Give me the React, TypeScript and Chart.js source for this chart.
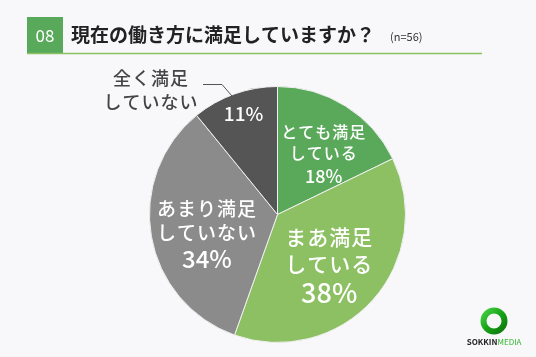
import React, { useEffect, useRef } from "react";
import { Chart, registerables } from "chart.js";

Chart.register(...registerables);

const categories: string[][] = [
  ["とても満足", "している"],
  ["まあ満足", "している"],
  ["あまり満足", "していない"],
  ["全く満足", "していない"],
];
const values: number[] = [18, 38, 34, 11];
const percentLabels: string[] = ["18%", "38%", "34%", "11%"];
const colors: string[] = ["#5aa95b", "#8cc062", "#8b8b8b", "#555555"];

const titleNumber = "08";
const titleText = "現在の働き方に満足していますか？";
const sampleText = "(n=56)";

const FONT = '"Noto Sans CJK JP", "Noto Sans", sans-serif';

// label style per slice: radial fraction, angle tweak (deg), text size, pct size, line gap
const labelStyle = [
  { frac: 0.6, dAng: 5, tSize: 16, pSize: 18, gap: 21, color: "#ffffff" },
  { frac: 0.56, dAng: 2, tSize: 21, pSize: 27, gap: 27, color: "#ffffff" },
  { frac: 0.57, dAng: -5, tSize: 19, pSize: 24, gap: 24, color: "#ffffff" },
  { frac: 0.83, dAng: 1, tSize: 18, pSize: 19, gap: 24, color: "#ffffff" },
];

export default function App() {
  const ref = useRef<HTMLCanvasElement | null>(null);

  useEffect(() => {
    document.body.style.margin = "0";
    const canvas = ref.current;
    if (!canvas) return;

    const bgPlugin = {
      id: "bg",
      beforeDraw(chart: any) {
        const ctx = chart.ctx;
        ctx.save();
        ctx.fillStyle = "#f8f8fa";
        ctx.fillRect(0, 0, chart.width, chart.height);
        ctx.restore();
      },
    };

    const decoPlugin = {
      id: "deco",
      afterDraw(chart: any) {
        const ctx: CanvasRenderingContext2D = chart.ctx;
        ctx.save();
        // header
        ctx.fillStyle = "#58a95a";
        ctx.fillRect(27, 17, 36, 36);
        ctx.strokeStyle = "#8cc062";
        ctx.lineWidth = 1.5;
        ctx.beginPath();
        ctx.moveTo(27, 53.5);
        ctx.lineTo(482, 53.5);
        ctx.stroke();
        ctx.fillStyle = "#ffffff";
        ctx.font = `17px ${FONT}`;
        ctx.textAlign = "center";
        ctx.textBaseline = "middle";
        ctx.fillText(titleNumber, 45, 36);
        ctx.fillStyle = "#222222";
        ctx.font = `bold 19px ${FONT}`;
        ctx.textAlign = "left";
        ctx.fillText(titleText, 71, 35);
        ctx.font = `11px ${FONT}`;
        ctx.fillStyle = "#333333";
        ctx.fillText(sampleText, 390, 37);

        // slice labels
        const meta = chart.getDatasetMeta(0);
        meta.data.forEach((arc: any, i: number) => {
          const st = labelStyle[i];
          const mid = (arc.startAngle + arc.endAngle) / 2 + (st.dAng * Math.PI) / 180;
          const r = arc.outerRadius * st.frac;
          const cx = arc.x + Math.cos(mid) * r;
          const cy = arc.y + Math.sin(mid) * r;
          ctx.fillStyle = st.color;
          ctx.textAlign = "center";
          ctx.textBaseline = "middle";
          (ctx as any).letterSpacing = "0px";
          if (i === 3) {
            ctx.font = `500 ${st.pSize}px ${FONT}`;
            ctx.fillText(percentLabels[i], cx, cy);
            // outside label
            ctx.fillStyle = "#444444";
            ctx.font = `500 18px ${FONT}`;
            (ctx as any).letterSpacing = "1px";
            ctx.fillText(categories[i][0], 151, 78);
            ctx.fillText(categories[i][1], 151, 102);
            (ctx as any).letterSpacing = "0px";
            ctx.strokeStyle = "#555555";
            ctx.lineWidth = 1;
            ctx.beginPath();
            ctx.moveTo(203, 84.5);
            ctx.lineTo(222, 84.5);
            ctx.lineTo(232, 96);
            ctx.stroke();
            return;
          }
          const lines = categories[i];
          const total = lines.length;
          const startY = cy - (total * st.gap) / 2;
          (ctx as any).letterSpacing = "1px";
          ctx.font = `500 ${st.tSize}px ${FONT}`;
          lines.forEach((ln, k) => {
            ctx.fillText(ln, cx, startY + k * st.gap);
          });
          (ctx as any).letterSpacing = "0px";
          ctx.font = `500 ${st.pSize}px ${FONT}`;
          ctx.fillText(percentLabels[i], cx, startY + total * st.gap + 2);
        });

        // logo
        const lx = 494, ly = 321;
        const grad = ctx.createLinearGradient(lx - 13, ly - 13, lx + 13, ly + 13);
        grad.addColorStop(0, "#4fd84f");
        grad.addColorStop(0.5, "#17a317");
        grad.addColorStop(1, "#0b6e0b");
        ctx.strokeStyle = grad;
        ctx.lineWidth = 6;
        ctx.beginPath();
        ctx.arc(lx, ly, 10.5, 0, Math.PI * 2);
        ctx.stroke();
        ctx.textAlign = "left";
        ctx.textBaseline = "middle";
        ctx.font = `bold 8px ${FONT}`;
        ctx.fillStyle = "#222222";
        const w1 = ctx.measureText("SOKKIN").width;
        ctx.font = `8px ${FONT}`;
        const w2 = ctx.measureText("MEDIA").width;
        const sx = lx - (w1 + w2) / 2;
        ctx.font = `bold 8px ${FONT}`;
        ctx.fillText("SOKKIN", sx, 342);
        ctx.font = `8px ${FONT}`;
        ctx.fillStyle = "#2fb52f";
        ctx.fillText("MEDIA", sx + w1, 342);
        ctx.restore();
      },
    };

    const chart = new Chart(canvas, {
      type: "pie",
      data: {
        labels: categories.map((c) => c.join("")),
        datasets: [
          {
            data: values,
            backgroundColor: colors,
            borderColor: "#f0f0f0",
            borderWidth: 1,
          },
        ],
      },
      options: {
        animation: false,
        responsive: false,
        devicePixelRatio: 1,
        layout: { padding: { left: 149, right: 130, top: 86, bottom: 14 } },
        plugins: {
          legend: { display: false },
          tooltip: { enabled: false },
          title: { display: false },
        },
      },
      plugins: [bgPlugin, decoPlugin],
    });
    return () => chart.destroy();
  }, []);

  return <canvas ref={ref} width={536} height={357} style={{ display: "block" }} />;
}
